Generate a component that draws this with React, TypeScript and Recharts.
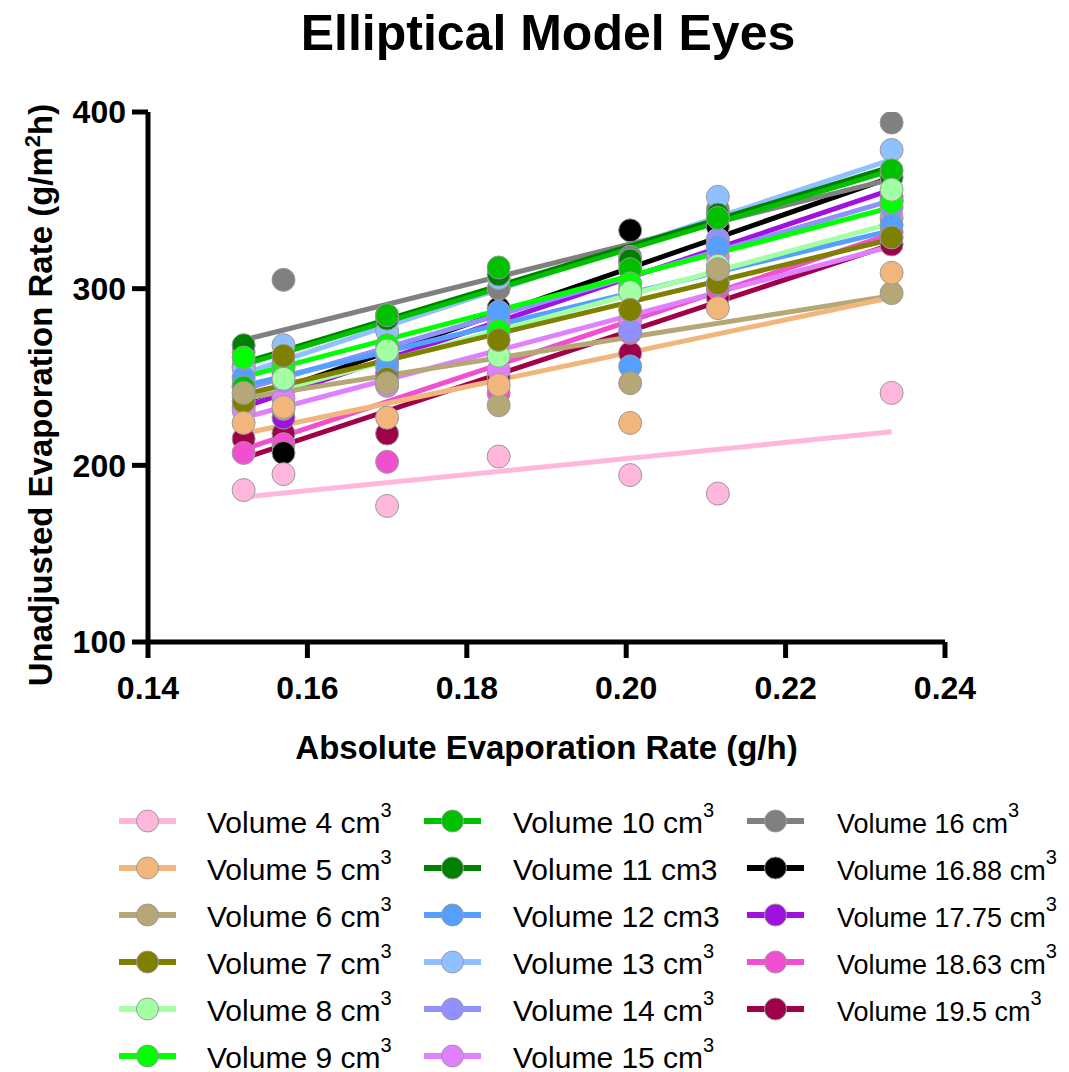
import React from 'react';
import { ComposedChart, Scatter, Line, XAxis, YAxis, Label } from 'recharts';

const FONT = '"Liberation Sans", Arial, Helvetica, sans-serif';

// x positions (absolute evaporation rate, g/h)
const xValues = [0.152, 0.157, 0.170, 0.184, 0.2005, 0.2115, 0.2333];
const fitX = [0.152, 0.2333];

const xTicks = [0.14, 0.16, 0.18, 0.2, 0.22, 0.24];
const yTicks = [100, 200, 300, 400];

// series values (unadjusted evaporation rate, g/m2h)
const vol4 = [186, 195, 177, 205, 194.5, 184, 241];
const vol5 = [224, 233, 227, 245.5, 224, 289, 309];
const vol6 = [241, 232, 246.5, 234, 246.5, 311, 297.5];
const vol7 = [236, 262, 249, 271, 288, 303, 329];
const vol8 = [239, 249, 265, 262, 298, 313, 356];
const vol9 = [261, 256, 268, 276, 303, 310, 349];
const vol10 = [244, 255, 285, 312, 311, 340, 367];
const vol11 = [268, 258, 283, 308, 316, 342, 363];
const vol12 = [249.5, 252, 256, 287, 256, 323.6, 336];
const vol13 = [255, 268, 276, 306, 314, 352, 378.5];
const vol14 = [245, 248, 262, 280, 276, 328, 346];
const vol15 = [231, 238, 245, 254, 282, 318, 340];
const vol16 = [264, 305, 285, 300, 318, 345, 394];
const vol1688 = [256, 207, 258, 289, 333, 335, 350];
const vol1775 = [233, 227, 252, 282, 300, 325, 352];
const vol1863 = [207, 212, 202, 241, 275, 300, 332];
const vol195 = [215, 218, 218, 250, 263.5, 295, 325];

// regression line values at first and last x
const fit4 = [182, 219];
const fit5 = [218, 295];
const fit6 = [238, 296];
const fit7 = [240, 328];
const fit8 = [237, 337];
const fit9 = [250, 346];
const fit10 = [257, 367];
const fit11 = [258, 369];
const fit12 = [245, 333];
const fit13 = [252, 373];
const fit14 = [243, 350];
const fit15 = [227, 324];
const fit16 = [271, 362];
const fit1688 = [236, 363];
const fit1775 = [233, 356];
const fit1863 = [209, 331];
const fit195 = [204, 325];

// legend labels: [main text, superscript]
const labels: [string, string][] = [
  ['Volume 4 cm', '3'], ['Volume 5 cm', '3'], ['Volume 6 cm', '3'], ['Volume 7 cm', '3'],
  ['Volume 8 cm', '3'], ['Volume 9 cm', '3'], ['Volume 10 cm', '3'], ['Volume 11 cm3', ''],
  ['Volume 12 cm3', ''], ['Volume 13 cm', '3'], ['Volume 14 cm', '3'], ['Volume 15 cm', '3'],
  ['Volume 16 cm', '3'], ['Volume 16.88 cm', '3'], ['Volume 17.75 cm', '3'],
  ['Volume 18.63 cm', '3'], ['Volume 19.5 cm', '3'],
];

const seriesValues = [vol4, vol5, vol6, vol7, vol8, vol9, vol10, vol11, vol12, vol13, vol14, vol15, vol16, vol1688, vol1775, vol1863, vol195];
const seriesFits = [fit4, fit5, fit6, fit7, fit8, fit9, fit10, fit11, fit12, fit13, fit14, fit15, fit16, fit1688, fit1775, fit1863, fit195];

const colors = ['#FFB8DB', '#F2B67C', '#B5A776', '#808000', '#A3FFA3', '#00FF00', '#00C000', '#008000',
  '#55A0FF', '#90C0FF', '#9090FF', '#E080FF', '#808080', '#000000', '#A010E0', '#F050D0', '#A0004A'];

const series = labels.map((l, i) => ({
  name: l[0] + l[1],
  sup: l[1],
  main: l[0],
  color: colors[i],
  points: xValues.map((x, j) => ({ x, y: seriesValues[i][j] })),
  fit: fitX.map((x, j) => ({ x, y: seriesFits[i][j] })),
}));

// first data set is drawn on top, as in the reference
const drawOrder = series.slice().reverse();

const tickStyle = { fill: '#000', fontSize: 32, fontWeight: 700, fontFamily: FONT };

const XLabel = (props: any) => {
  const vb = props.viewBox || {};
  return (
    <text x={vb.x + vb.width / 2} y={vb.y + 117} textAnchor="middle" fontFamily={FONT} fontWeight={700} fontSize={33} fill="#000">
      Absolute Evaporation Rate (g/h)
    </text>
  );
};

const YLabel = () => {
  const cx = 44;
  const cy = 387;
  return (
    <text x={cx} y={cy} transform={`rotate(-90 ${cx} ${cy})`} textAnchor="middle" fontFamily={FONT} fontWeight={700} fontSize={33} fill="#000">
      <tspan>Unadjusted Evaporation Rate (g/m</tspan>
      <tspan dy={-12} fontSize={22}>2</tspan>
      <tspan dy={12}>h)</tspan>
    </text>
  );
};

const makeDot = (color: string) => (props: any) => {
  if (props.cx == null || props.cy == null) return <g />;
  return <circle cx={props.cx} cy={props.cy} r={11.5} fill={color} stroke="#9a9a9a" strokeWidth={1} />;
};

const legendCols = [
  { iconX: 119, textX: 207, start: 0, count: 6, fs: 30 },
  { iconX: 424, textX: 513, start: 6, count: 6, fs: 30 },
  { iconX: 747, textX: 837, start: 12, count: 5, fs: 27 },
];

export default function App() {
  return (
    <div style={{ position: 'relative', width: 1053, height: 1064, fontFamily: FONT }}>
      <ComposedChart
        width={1053}
        height={780}
        margin={{ top: 104, right: 116, left: 0, bottom: 86 }}
      >
        <XAxis
          type="number"
          dataKey="x"
          domain={[0.14, 0.24]}
          ticks={xTicks}
          allowDataOverflow
          height={60}
          tickFormatter={(v: number) => v.toFixed(2)}
          tick={tickStyle}
          axisLine={{ stroke: '#000', strokeWidth: 5 }}
          tickLine={{ stroke: '#000', strokeWidth: 5 }}
          tickSize={16}
          tickMargin={18}
        >
          <Label content={XLabel} />
        </XAxis>
        <YAxis
          type="number"
          dataKey="y"
          domain={[100, 400]}
          ticks={yTicks}
          allowDataOverflow
          width={140}
          tick={tickStyle}
          axisLine={{ stroke: '#000', strokeWidth: 5 }}
          tickLine={{ stroke: '#000', strokeWidth: 5 }}
          tickSize={16}
          tickMargin={6}
        >
          <Label content={YLabel} />
        </YAxis>
        {drawOrder.map((s) => (
          <Scatter
            key={'p' + s.name}
            name={s.name}
            data={s.points}
            dataKey="y"
            fill={s.color}
            shape={makeDot(s.color)}
            isAnimationActive={false}
            legendType="none"
          />
        ))}
        {drawOrder.map((s) => (
          <Line
            key={'l' + s.name}
            name={s.name + ' fit'}
            data={s.fit}
            dataKey="y"
            type="linear"
            stroke={s.color}
            strokeWidth={5}
            dot={false}
            activeDot={false}
            isAnimationActive={false}
            legendType="none"
          />
        ))}
      </ComposedChart>
      <div
        style={{
          position: 'absolute', left: 0, top: 0, width: 1080, textAlign: 'center',
          fontFamily: FONT, fontWeight: 700, fontSize: 50, lineHeight: '50px', color: '#000',
        }}
      >
        Elliptical Model Eyes
      </div>
      <svg width={1061} height={1064} style={{ position: 'absolute', left: 0, top: 0, pointerEvents: 'none', overflow: 'visible' }}>
        {legendCols.map((col) =>
          series.slice(col.start, col.start + col.count).map((s, r) => {
            const cy = 813 + r * 47;
            const ix = col.iconX - 8;
            return (
              <g key={'lg' + s.name}>
                <line x1={ix} y1={cy} x2={ix + 57} y2={cy} stroke={s.color} strokeWidth={6} />
                <circle cx={ix + 28.5} cy={cy} r={11} fill={s.color} stroke="#9a9a9a" strokeWidth={1} />
                <text x={col.textX - 8} y={cy + 12} fontFamily={FONT} fontSize={col.fs} fill="#000">
                  <tspan>{s.main}</tspan>
                  {s.sup ? <tspan dy={-16} fontSize={20}>{s.sup}</tspan> : null}
                </text>
              </g>
            );
          })
        )}
      </svg>
    </div>
  );
}
